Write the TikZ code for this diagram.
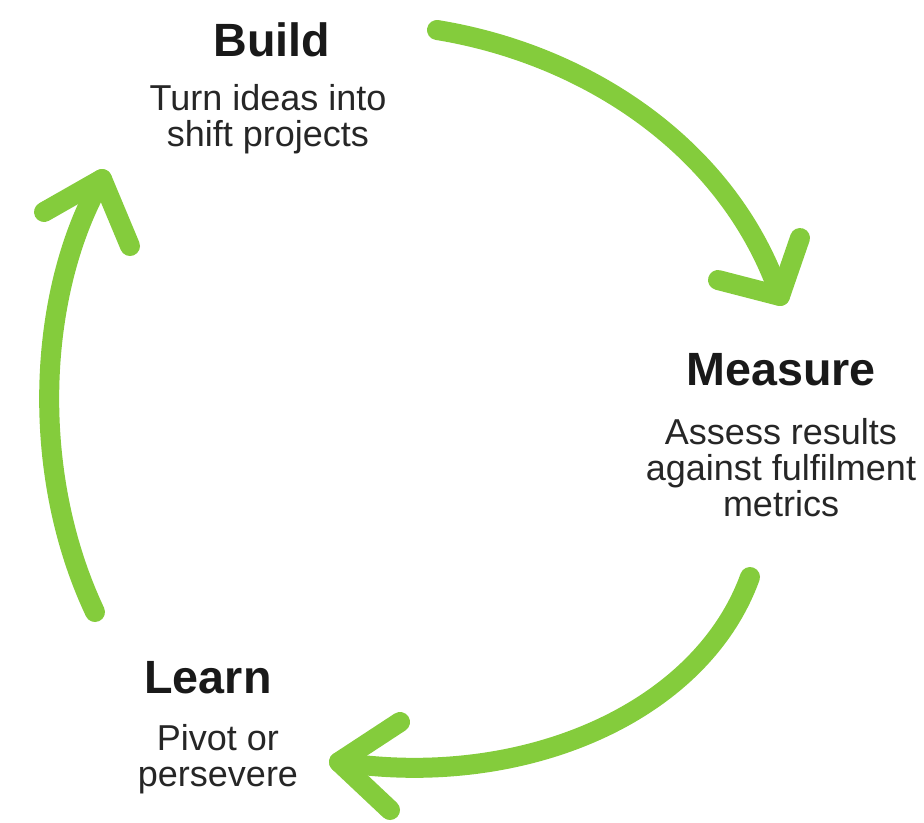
\documentclass[tikz,border=0pt]{standalone}
\usepackage{fontspec}
\setmainfont{Liberation Sans}
\definecolor{leafgreen}{RGB}{132,204,60}
\tikzset{
	cyclearc/.style={draw=leafgreen, line width=15pt, line cap=round, line join=round},
	stagetitle/.style={inner sep=0.75pt, font=\fontsize{35}{38}\selectfont\bfseries, text=black!90},
	stagetext/.style={inner sep=0.75pt, align=center, font=\fontsize{27}{27}\selectfont, text=black!85}
}
\begin{document}
\begin{tikzpicture}[x=0.75pt,y=0.75pt,yscale=-1,xscale=1]
	%set diagram size 924 x 822
	\path [use as bounding box] (0,0) rectangle (924,822);
	
	% Text Node
	\node [stagetitle] (build) at (272,40) {Build};
	% Text Node
	\node [stagetext] (buildtxt) at (268,119) {Turn ideas into\\shift projects};
	% Text Node
	\node [stagetitle] (measure) at (781,370) {Measure};
	% Text Node
	\node [stagetext] (measuretxt) at (781,468) {Assess results\\against fulfilment\\metrics};
	% Text Node
	\node [stagetitle] (learn) at (208,678) {Learn};
	% Text Node
	\node [stagetext] (learntxt) at (218,759) {Pivot or\\persevere};
	
	%Arc ends
	\coordinate (bstart) at (437,30);
	\coordinate (btip) at (780,296);
	\coordinate (mstart) at (750,577);
	\coordinate (mtip) at (339,762);
	\coordinate (lstart) at (95,612);
	\coordinate (ltip) at (102,179);
	
	%Curve Lines: build -> measure
	\draw [cyclearc] (bstart) .. controls (590,55) and (730,150) .. (btip) ;
	\draw [cyclearc] (718,280) -- (btip) -- (800,238) ;
	%Curve Lines: measure -> learn
	\draw [cyclearc] (mstart) .. controls (700,715) and (520,790) .. (mtip) ;
	\draw [cyclearc] (400,722) -- (mtip) -- (390,810) ;
	%Curve Lines: learn -> build
	\draw [cyclearc] (lstart) .. controls (28,470) and (38,290) .. (ltip) ;
	\draw [cyclearc] (44,212) -- (ltip) -- (130,246) ;
	
\end{tikzpicture}
\end{document}
